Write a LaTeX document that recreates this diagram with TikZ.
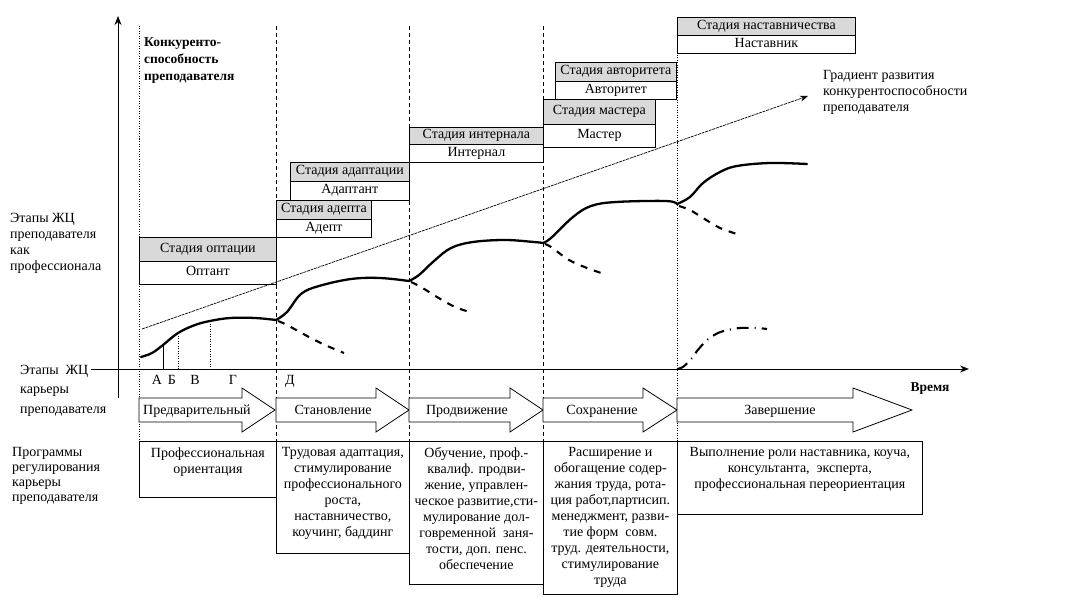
\documentclass[tikz,border=0pt]{standalone}
\usepackage{fontspec}
\setmainfont{Liberation Serif}
\usetikzlibrary{arrows.meta}
\definecolor{stagegray}{RGB}{217,217,217}
\begin{document}
\begin{tikzpicture}[x=1pt,y=-1pt,
  txt/.style={font=\fontsize{14}{16}\selectfont, inner sep=0pt},
  btxt/.style={font=\fontsize{13.5}{17}\selectfont\bfseries, inner sep=0pt},
  stitle/.style={draw, fill=stagegray, anchor=north west, inner sep=0pt, line width=0.8pt,
    font=\fontsize{14}{16}\selectfont, text height=9pt, text depth=3pt},
  srole/.style={stitle, fill=white},
  progbox/.style={draw, fill=white, anchor=north west, inner sep=0pt, line width=0.8pt},
  progtxt/.style={txt, align=center, anchor=north, yshift=-6.5pt},
  vdash/.style={dash pattern=on 4pt off 3pt, line width=0.7pt},
  vdot/.style={dash pattern=on 1pt off 1.5pt, line width=0.8pt},
  curve/.style={line width=2.3pt, line cap=round, line join=round},
  dcurve/.style={line width=2.1pt, dash pattern=on 7pt off 7pt},
  ddcurve/.style={line width=2.1pt, dash pattern=on 12pt off 6pt on 1pt off 6pt},
  blk/.style={draw, fill=white, line width=0.8pt},
  axis/.style={line width=0.9pt, -{Stealth[length=9pt,width=7pt]}}
]
\useasboundingbox (0,0) rectangle (1079,599);

% ---- vertical separators
\draw[vdot]  (139,26) -- (139,441);
\draw[vdash] (276,26) -- (276,441);
\draw[vdash] (409,26) -- (409,441);
\draw[vdash] (543,26) -- (543,441);
\draw[vdot]  (677,40) -- (677,441);

% ---- axes
\coordinate (yb) at (118,398);
\coordinate (yt) at (118,16);
\draw[axis] (yb) -- (yt);
\coordinate (xa) at (91,369);
\coordinate (xe) at (969,369);
\draw[axis, line width=1pt, dash pattern=on 1.5pt off 0.5pt] (xa) -- (xe);

% ---- stage boxes
\node[stitle, minimum width=137pt, minimum height=24pt] (t1) at (139,237) {Стадия оптации};
\node[srole,  minimum width=137pt, minimum height=23pt] (r1) at (139,261) {Оптант};
\node[stitle, minimum width=95pt, minimum height=19pt] (t2) at (276,200) {Стадия адепта};
\node[srole,  minimum width=95pt, minimum height=18pt] (r2) at (276,219) {Адепт};
\node[stitle, minimum width=119pt, minimum height=19pt] (t3) at (290,162) {Стадия адаптации};
\node[srole,  minimum width=119pt, minimum height=19pt] (r3) at (290,181) {Адаптант};
\node[stitle, minimum width=134pt, minimum height=17pt] (t4) at (409,127) {Стадия интернала};
\node[srole,  minimum width=134pt, minimum height=18pt] (r4) at (409,144) {Интернал};
\node[stitle, minimum width=112pt, minimum height=25pt] (t5) at (543,99) {Стадия мастера};
\node[srole,  minimum width=112pt, minimum height=23pt] (r5) at (543,124) {Мастер};
\node[stitle, minimum width=121pt, minimum height=19pt] (t6) at (555,62) {Стадия авторитета};
\node[srole,  minimum width=121pt, minimum height=18pt] (r6) at (555,81) {Авторитет};
\node[stitle, minimum width=178pt, minimum height=18pt] (t7) at (677,17) {Стадия наставничества};
\node[srole,  minimum width=178pt, minimum height=18pt] (r7) at (677,35) {Наставник};

% ---- texts
\node[btxt, align=left, anchor=north west] (konk) at (144,37) {Конкуренто-\\способность\\преподавателя};
\node[txt, align=left, anchor=north west] (grad) at (823,70) {Градиент развития\\конкурентоспособности\\преподавателя};
\node[txt, align=left, anchor=north west] (etp) at (10,213) {Этапы ЖЦ\\преподавателя\\как\\профессионала};
\node[txt, font=\fontsize{14}{19.5}\selectfont, align=left, anchor=north west] (etk) at (20,365) {Этапы\ \ ЖЦ\\карьеры\\преподавателя};
\node[txt, font=\fontsize{14}{15}\selectfont, align=left, anchor=north west] (prg) at (12,447) {Программы\\регулирования\\карьеры\\преподавателя};
\node[btxt, anchor=base] (vrem) at (930,391) {Время};

% ---- gradient arrow
\coordinate (g0) at (142,329);
\coordinate (g1) at (808,96);
\draw[line width=0.7pt, dash pattern=on 3pt off 0.8pt, -{Stealth[length=8pt,width=6pt]}] (g0) -- (g1);

% ---- curves
\draw[curve] plot[smooth, tension=0.6] coordinates {(141,357) (152,353) (163,345) (178,333) (195,325) (210,321) (230,318) (255,318) (276,320)};
\draw[curve] plot[smooth, tension=0.6] coordinates {(276,320) (287,312) (301,294) (319,286) (351,279) (380,278) (409,281)};
\draw[curve] plot[smooth, tension=0.6] coordinates {(409,281) (419,275) (434,261) (451,248) (473,242) (505,240) (534,242) (543,243)};
\draw[curve] plot[smooth, tension=0.6] coordinates {(543,243) (551,238) (573,217) (591,206) (616,202) (666,201) (677,204)};
\draw[curve] plot[smooth, tension=0.6] coordinates {(677,204) (690,197) (703,183) (720,172) (737,166) (770,163) (807,164)};
\draw[dcurve] plot[smooth] coordinates {(278,321) (287,325) (309,337) (325,345) (344,353)};
\draw[dcurve] plot[smooth] coordinates {(411,282) (421,287) (437,297) (455,307) (473,313)};
\draw[dcurve] plot[smooth] coordinates {(545,244) (551,247) (569,260) (587,268) (607,275)};
\draw[dcurve] plot[smooth] coordinates {(679,206) (690,210) (703,218) (720,228) (740,235)};
\draw[ddcurve] plot[smooth] coordinates {(677,369) (683,367) (692,358) (697,351) (707,340) (718,333) (728,330) (740,328) (757,328) (767,329)};

% ---- A B V lines
\draw[line width=0.7pt] (163,345) -- (163,369);
\draw[vdot] (178,333) -- (178,369);
\draw[vdot] (210,321) -- (210,369);

\node[txt, anchor=base] (la) at (157,384.5) {А};
\node[txt, anchor=base] (lb) at (172,384.5) {Б};
\node[txt, anchor=base] (lv) at (195,384.5) {В};
\node[txt, anchor=base] (lg) at (233,384.5) {Г};
\node[txt, anchor=base] (ld) at (290,384.5) {Д};

% ---- block arrows
\newcommand\blkarrow[3]{\draw[blk] (#1,398) -- (#2,398) -- (#2,388) -- (#3,410) -- (#2,432) -- (#2,422) -- (#1,422) -- cycle;}
\blkarrow{139}{242}{275}
\blkarrow{276}{376}{409}
\blkarrow{409}{510}{543}
\blkarrow{543}{643}{677}
\blkarrow{677}{853}{912}
\node[txt, anchor=base west] (a1) at (143,414.5) {Предварительный};
\node[txt, anchor=base] (a2) at (333,414.5) {Становление};
\node[txt, anchor=base] (a3) at (467,414.5) {Продвижение};
\node[txt, anchor=base] (a4) at (602,414.5) {Сохранение};
\node[txt, anchor=base] (a5) at (780,414.5) {Завершение};

% ---- program boxes
\node[progbox, minimum width=137pt, minimum height=56pt] (p1) at (139,441) {};
\node[progbox, minimum width=133pt, minimum height=112pt] (p2) at (276,441) {};
\node[progbox, minimum width=134pt, minimum height=143pt] (p3) at (409,441) {};
\node[progbox, minimum width=134pt, minimum height=153pt] (p4) at (543,441) {};
\node[progbox, minimum width=245pt, minimum height=73pt] (p5) at (677,441) {};
\node[progtxt] (q1) at (p1.north) {Профессиональная\\ориентация};
\node[progtxt] (q2) at (p2.north) {Трудовая адаптация,\\стимулирование\\профессионального\\роста,\\наставничество,\\коучинг, баддинг};
\node[progtxt] (q3) at (p3.north) {Обучение, проф.-\\квалиф. продви-\\жение, управлен-\\ческое развитие,сти-\\мулирование дол-\\говременной\ \ заня-\\тости, доп. пенс.\\обеспечение};
\node[progtxt] (q4) at (p4.north) {Расширение и\\обогащение содер-\\жания труда, рота-\\ция работ,партисип.\\менеджмент, разви-\\тие форм\ \ совм.\\труд. деятельности,\\стимулирование\\труда};
\node[progtxt] (q5) at (p5.north) {Выполнение роли наставника, коуча,\\консультанта,\ \ эксперта,\\профессиональная переориентация};
\end{tikzpicture}
\end{document}
